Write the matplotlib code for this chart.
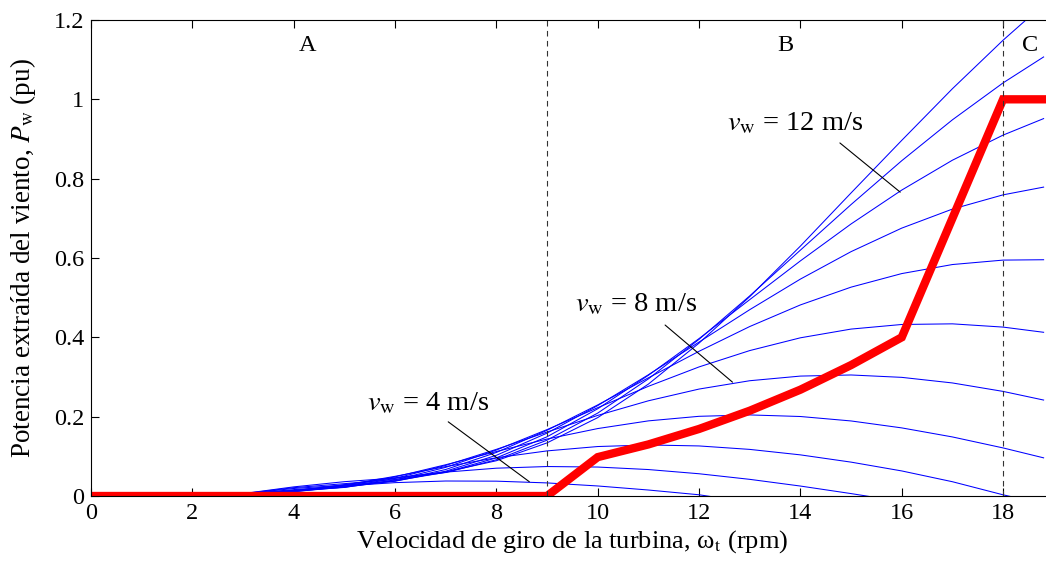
"""
Curvas de potencia de la turbina eólica frente a la velocidad de giro,
con la curva de seguimiento del punto de máxima potencia (en rojo).
"""

import numpy as np
import matplotlib
matplotlib.use("Agg")  # Non-interactive backend
import matplotlib.pyplot as plt

plt.rcParams["font.family"] = ["Liberation Serif", "DejaVu Serif"]
plt.rcParams["mathtext.fontset"] = "stix"

nan = np.nan

# ── Datos ──
omega = [0, 1, 2, 3, 4, 5, 6, 7, 8, 9, 10, 11, 12, 13, 14, 15, 16, 17, 18, 18.8]

p_4ms = [0, 0.0006, 0.0012, 0.0040, 0.0140, 0.0254, 0.0337, 0.0378, 0.0374, 0.0330,
         0.0253, 0.0151, 0.0031, -0.016, nan, nan, nan, nan, nan, nan]
p_5ms = [0, 0.0008, 0.0014, 0.0040, 0.0130, 0.0287, 0.0456, 0.0602, 0.0701, 0.0743,
         0.0730, 0.0667, 0.0561, 0.0420, 0.0251, 0.0061, -0.0141, nan, nan, nan]
p_6ms = [0, 0.0010, 0.0018, 0.0042, 0.0115, 0.0275, 0.0496, 0.0741, 0.0964, 0.1137,
         0.1247, 0.1287, 0.1262, 0.1175, 0.1037, 0.0854, 0.0632, 0.0360, 0.0030, -0.020]
p_7ms = [0, 0.0012, 0.0022, 0.0045, 0.0108, 0.0247, 0.0482, 0.0788, 0.1121, 0.1436,
         0.1700, 0.1894, 0.2009, 0.2044, 0.2004, 0.1892, 0.1717, 0.1489, 0.1212, 0.0962]
p_8ms = [0, 0.0014, 0.0026, 0.0048, 0.0110, 0.0226, 0.0443, 0.0772, 0.1176, 0.1612,
         0.2032, 0.2400, 0.2696, 0.2906, 0.3023, 0.3051, 0.2991, 0.2850, 0.2637, 0.2419]
p_9ms = [0, 0.0016, 0.0030, 0.0050, 0.0125, 0.0216, 0.0406, 0.0722, 0.1159, 0.1674,
         0.2226, 0.2765, 0.3254, 0.3666, 0.3988, 0.4208, 0.4324, 0.4340, 0.4258, 0.4127]
p_10ms = [0, 0.0018, 0.0033, 0.0052, 0.0140, 0.0221, 0.0382, 0.0668, 0.1098, 0.1657,
          0.2296, 0.2979, 0.3648, 0.4272, 0.4817, 0.5265, 0.5607, 0.5835, 0.5947, 0.5956]
p_11ms = [0, 0.0020, 0.0036, 0.0054, 0.0160, 0.0248, 0.0372, 0.0625, 0.1026, 0.1585,
          0.2279, 0.3056, 0.3881, 0.4697, 0.5468, 0.6160, 0.6753, 0.7233, 0.7592, 0.7787]
p_12ms = [0, 0.0022, 0.0040, 0.0056, 0.0190, 0.0273, 0.0382, 0.0599, 0.0961, 0.1493,
          0.2199, 0.3043, 0.3968, 0.4950, 0.5927, 0.6858, 0.7712, 0.8465, 0.9098, 0.9514]
p_13ms = [0, 0.0024, 0.0043, 0.0058, 0.0210, 0.0311, 0.0417, 0.0592, 0.0914, 0.1408,
          0.2090, 0.2952, 0.3950, 0.5044, 0.6198, 0.7347, 0.8452, 0.9483, 1.0414, 1.1068]
p_14ms = [0, 0.0026, 0.0046, 0.0060, 0.0230, 0.0361, 0.0453, 0.0607, 0.0889, 0.1339,
          0.1976, 0.2821, 0.3854, 0.5026, 0.6300, 0.7640, 0.8965, 1.0267, 1.1490, 1.2393]

wind_curves = [p_4ms, p_5ms, p_6ms, p_7ms, p_8ms, p_9ms,
               p_10ms, p_11ms, p_12ms, p_13ms, p_14ms]

# Curva de operación (MPPT)
mppt_omega = [0, 9, 10, 11, 12, 13, 14, 15, 16, 18, 18.8]
mppt_p = [0, 0, 0.098, 0.130, 0.169, 0.215, 0.268, 0.330, 0.400, 1.0, 1.0]

zone_limits = [9, 18]
zone_names = ["A", "B", "C"]
zone_x = [4.27, 13.7, 18.54]

fig = plt.figure(figsize=(10.46, 5.63), dpi=100)
ax = fig.add_axes([0.0870, 0.1190, 0.9204, 0.8455])

for p in wind_curves:
    ax.plot(omega, p, color="#0000ff", linewidth=0.75)

ax.plot(mppt_omega, mppt_p, color="#ff0000", linewidth=6, solid_joinstyle="miter")

for xl in zone_limits:
    ax.axvline(xl, color="#333333", linestyle=(0, (5, 4)), linewidth=0.8)

for name, xz in zip(zone_names, zone_x):
    ax.text(xz, 1.136, name, ha="center", va="center", fontsize=17.5)

# ── Etiquetas de velocidad de viento ──
labels = [
    (r"$v_{\rm w}$ = 12 m/s", (12.55, 0.9226), (14.78, 0.890), (15.97, 0.766)),
    (r"$v_{\rm w}$ = 8 m/s", (9.55, 0.4646), (11.33, 0.431), (12.66, 0.287)),
    (r"$v_{\rm w}$ = 4 m/s", (5.44, 0.2168), (7.05, 0.187), (8.65, 0.036)),
]
for txt, pos, start, end in labels:
    ax.text(pos[0], pos[1], txt, ha="left", va="baseline", fontsize=20.5)
    ax.annotate("", xy=end, xytext=start,
                arrowprops=dict(arrowstyle="-", color="black", linewidth=0.8,
                                shrinkA=0, shrinkB=0))

ax.set_xlim(0, 19)
ax.set_ylim(0, 1.2)
ax.set_xticks(range(0, 19, 2))
ax.set_yticks([0, 0.2, 0.4, 0.6, 0.8, 1.0, 1.2])
ax.set_yticklabels(["0", "0.2", "0.4", "0.6", "0.8", "1", "1.2"])
ax.tick_params(direction="in", length=6, width=0.8, top=True, right=True,
               labelsize=17.5, pad=5)
for s in ax.spines.values():
    s.set_linewidth(0.8)

ax.set_xlabel(r"Velocidad de giro de la turbina, ω$_{\rm t}$ (rpm)", fontsize=19,
              labelpad=3)
ax.set_ylabel(r"Potencia extraída del viento, $P_{\rm w}$ (pu)", fontsize=19.5,
              labelpad=11)

plt.savefig("out.png", dpi=100)
plt.close()
